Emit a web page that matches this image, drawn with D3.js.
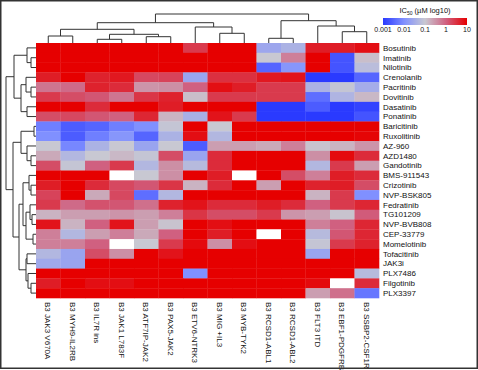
<!DOCTYPE html>
<html lang="en">
<head>
<meta charset="utf-8">
<title>IC50 heatmap</title>
<script src="https://d3js.org/d3.v7.min.js"></script>
<style>
	body { margin: 0; background: #fff; }
	text { font-family: "Liberation Sans", Arial, sans-serif; fill: #111; }
	.dendro path { fill: none; stroke: #333; stroke-width: 1; }
</style>
</head>
<body>
<svg id="chart"></svg>
<script>
	// ---- data -------------------------------------------------------
	const cellLines = ['B3 JAK3 V670A', 'B3 MYH9-IL2RB', 'B3 IL7R ins', 'B3 JAK1 L783F', 'B3 ATF7IP-JAK2',
		'B3 PAX5-JAK2', 'B3 ETV6-NTRK3', 'B3 MIG +IL3', 'B3 MYB-TYK2', 'B3 RCSD1-ABL1',
		'B3 RCSD1-ABL2', 'B3 FLT3 ITD', 'B3 EBF1-PDGFRB', 'B3 SSBP2-CSF1R']

	const drugs = ['Bosutinib', 'Imatinib', 'Nilotinib', 'Crenolanib', 'Pacritinib', 'Dovitinib',
		'Dasatinib', 'Ponatinib', 'Baricitinib', 'Ruxolitinib', 'AZ-960', 'AZD1480', 'Gandotinib',
		'BMS-911543', 'Crizotinib', 'NVP-BSK805', 'Fedratinib', 'TG101209', 'NVP-BVB808',
		'CEP-33779', 'Momelotinib', 'Tofacitinib', 'JAK3i', 'PLX7486', 'Filgotinib', 'PLX3397']

	// log10 IC50 (uM), one row per drug, one column per cell line; null = not tested
	const ic50 = [
		[1, 1, 1, 1, 1, 1, 0.4, 1, 1, -1.6, -1.4, 0.7, 0.7, 0.85],
		[1, 1, 1, 1, 1, 1, 1, 1, 1, -1, -0.3, 1, -2.7, -0.9],
		[1, 1, 1, 1, 1, 1, 1, 1, 1, -2.5, -1.9, 1, -2.7, -1.2],
		[0.7, 1, 0.65, 0.75, 0.25, 0.3, -1.65, 0.5, 0.5, 0.75, 0.8, -3, -3, -2.5],
		[-0.2, -0.1, 0.65, 0.55, -0.5, -0.45, 0, 0.85, 0.7, 0.4, 0.4, -1.4, -1.05, -1.5],
		[0.4, 0.2, 0.1, -0.2, 0.45, 0.65, -0.9, 0.4, 0.4, 0.4, 0.4, -2.4, -1.35, -0.85],
		[1, 1, 0.55, 1, 1, 0.7, 1, 1, 1, -3, -3, -2.6, -3, -2.9],
		[0.2, 0.25, 0.1, 0, 0.6, -0.8, -1.45, 0.8, 0.4, -3, -3, -3, -3, -2.7],
		[-2.2, -2.6, -2.5, -2.2, -2, -1.05, 1, -1, 1, 1, 1, 1, 1, 1],
		[-2, -2.6, -2.2, -1.9, -2.5, -1.4, 0.85, -1.3, 1, 1, 1, 1, 1, 0.95],
		[-1, -2.1, -1.4, -1, -1.65, -1, -2.6, -0.6, -0.6, -0.7, -0.3, -0.95, -0.8, -0.5],
		[-0.7, -1.3, -1, -0.85, -1.05, 0.2, -1.65, 0.55, 1, 1, 1, -0.45, 0.9, 0.55],
		[0.2, -1.05, 0, 0.4, -1.3, -0.45, -1.25, 0.55, 1, 1, 1, -1.3, 0.4, -0.6],
		[1, 1, 1, null, -1, -0.45, 1, 0.7, null, 1, 0.2, -0.3, 0.7, 0.55],
		[0.7, 1, 0.55, 0.25, 0.1, 0.45, -0.8, 0.55, 1, -0.6, 1, 0.65, 0.7, 0.2],
		[0.3, 1, -0.7, 0.25, -2.4, -1.3, 1, 1, 1, 1, 1, -0.8, 0.4, -2],
		[0.4, -0.1, 0.15, 0.1, -0.15, 0.65, 0.8, 0.55, 0.55, 0.7, 0.55, 0, 0.4, 0.6],
		[-0.8, -0.6, -0.6, -0.5, -0.6, -0.3, 0.45, 0.2, 0.2, 0.4, -0.5, -0.6, -0.95, 0.05],
		[0.8, -0.8, 0, 0.8, -0.6, -0.95, 1, 0.85, 1, 1, 1, -0.3, 0, 0.6],
		[-0.3, -1.3, -0.6, -0.3, -0.7, 0, 1, 0.7, 1, null, 1, -1.25, 0.1, 0.6],
		[-0.3, -0.3, 0, null, -1, 0.4, 0.9, -0.45, 0.85, 1, 1, -1.05, 0.4, 0.65],
		[-1.3, -1.65, 0.2, -0.45, 1, 0.8, 1, 1, 1, 1, 1, -1.65, 1, 1],
		[-1.55, -1.65, 1, 1, 1, 1, 1, 1, 1, 1, 1, 1, 1, 1],
		[1, 1, 1, 1, 1, 1, -2, 1, 1, 1, 1, 1, 1, -1.25],
		[0.7, 1, 0.85, 0.85, 1, 1, 1, 1, 1, 1, 1, 0.9, null, 0.55],
		[1, 1, 1, 1, 1, 1, 1, 1, 1, 1, 1, -0.6, -0.15, -2.3]
	]

	const legendTicks = [0.001, 0.01, 0.1, 1, 10]

	// dendrograms: [merge height, left, right], leaves are indices
	const colTree = [29,
		[20.3,
			[13.7, [7, 0, 1], [8.7, [3.7, 2, 3], [6.3, 4, 5]]],
			[16, 6, [9.7, 7, 8]]],
		[22.3, [4.7, 9, 10], [17, 11, [11.3, 12, 13]]]]

	const rowTree = [30,
		[22,
			[9, 0, [5, 1, 2]],
			[15, [10, 3, [5, 4, 5]], [9, 6, 7]]],
		[23,
			[15, [2, 8, 9], [9, 10, [5, 11, 12]]],
			[17,
				[13, [7, 13, [5, 14, 15]], [10, [6, 16, [4, 17, 18]], [3, 19, 20]]],
				[10, [9, 21, 22], [8, 23, [5, 24, 25]]]]]]

	// ---- layout -----------------------------------------------------
	const w = 478
	const h = 370
	const svg = d3.select('#chart').attr('width', w).attr('height', h)

	const xScale = d3.scaleBand().domain(d3.range(cellLines.length)).range([36, 379])
	const yScale = d3.scaleBand().domain(d3.range(drugs.length)).range([43, 298])

	const color = d3.scaleLinear()
		.domain([-3, -2, -1, 0, 1])
		.range(['#2a3aff', '#8090ff', '#c8c8d2', '#d06080', '#e60000'])
		.clamp(true)

	// cells
	let cells = []
	ic50.forEach(function (row, i) {
		row.forEach(function (v, j) { cells.push({ r: i, c: j, v: v }) })
	})

	svg.append('g')
		.selectAll('rect')
		.data(cells)
		.enter()
		.append('rect')
		.attr('x', d => xScale(d.c))
		.attr('y', d => yScale(d.r))
		.attr('width', xScale.bandwidth() + 0.3)
		.attr('height', yScale.bandwidth() + 0.3)
		.attr('fill', d => d.v === null ? '#ffffff' : color(d.v))

	// row labels
	svg.append('g')
		.selectAll('text')
		.data(drugs)
		.enter()
		.append('text')
		.attr('x', 383)
		.attr('y', (d, i) => yScale(i) + yScale.bandwidth() / 2)
		.attr('dy', '0.35em')
		.attr('font-size', 8)
		.text(d => d)

	// column labels
	svg.append('g')
		.selectAll('text')
		.data(cellLines)
		.enter()
		.append('text')
		.attr('transform', (d, i) => 'translate(' + (xScale(i) + xScale.bandwidth() / 2) + ',302) rotate(90)')
		.attr('dy', '0.35em')
		.attr('font-size', 8)
		.text(d => d)

	// dendrograms
	function drawTree(tree, leafPos, hPos, horizontal) {
		let paths = []
		function walk(node) {
			if (typeof node === 'number') return { p: leafPos(node), h: 0 }
			const a = walk(node[1])
			const b = walk(node[2])
			if (horizontal) {
				paths.push('M' + a.p + ',' + hPos(a.h) + 'V' + hPos(node[0]) + 'H' + b.p + 'V' + hPos(b.h))
			} else {
				paths.push('M' + hPos(a.h) + ',' + a.p + 'H' + hPos(node[0]) + 'V' + b.p + 'H' + hPos(b.h))
			}
			return { p: (a.p + b.p) / 2, h: node[0] }
		}
		walk(tree)
		svg.append('g').attr('class', 'dendro')
			.selectAll('path')
			.data(paths)
			.enter()
			.append('path')
			.attr('d', d => d)
	}

	const colH = d3.scaleLinear().domain([0, 29]).range([43, 14])
	drawTree(colTree, i => xScale(i) + xScale.bandwidth() / 2, colH, true)

	const rowH = d3.scaleLinear().domain([0, 30]).range([36, 6])
	drawTree(rowTree, i => yScale(i) + yScale.bandwidth() / 2, rowH, false)

	// ---- legend -----------------------------------------------------
	const lx = d3.scaleLog().domain([0.001, 10]).range([383, 467])
	const defs = svg.append('defs')
	const grad = defs.append('linearGradient').attr('id', 'legendGrad')
	d3.range(0, 1.0001, 0.05).forEach(function (t) {
		grad.append('stop')
			.attr('offset', (t * 100) + '%')
			.attr('stop-color', color(-3 + 4 * t))
	})
	svg.append('rect')
		.attr('x', lx(0.001))
		.attr('y', 18)
		.attr('width', lx(10) - lx(0.001))
		.attr('height', 7)
		.attr('fill', 'url(#legendGrad)')

	svg.append('g')
		.selectAll('text')
		.data(legendTicks)
		.enter()
		.append('text')
		.attr('x', d => lx(d))
		.attr('y', 32)
		.attr('text-anchor', 'middle')
		.attr('font-size', 7)
		.text(d => d)

	const title = svg.append('text')
		.attr('x', (lx(0.001) + lx(10)) / 2)
		.attr('y', 13)
		.attr('text-anchor', 'middle')
		.attr('font-size', 7.5)
	title.append('tspan').text('IC')
	title.append('tspan').attr('font-size', 5).attr('dy', 2).text('50')
	title.append('tspan').attr('dy', -2).text(' (\u00b5M log10)')

	// frame
	svg.append('rect')
		.attr('x', 0.75).attr('y', 0.75)
		.attr('width', w - 1.5).attr('height', h - 2.5)
		.attr('fill', 'none')
		.attr('stroke', '#333')
		.attr('stroke-width', 1.5)
</script>
</body>
</html>
